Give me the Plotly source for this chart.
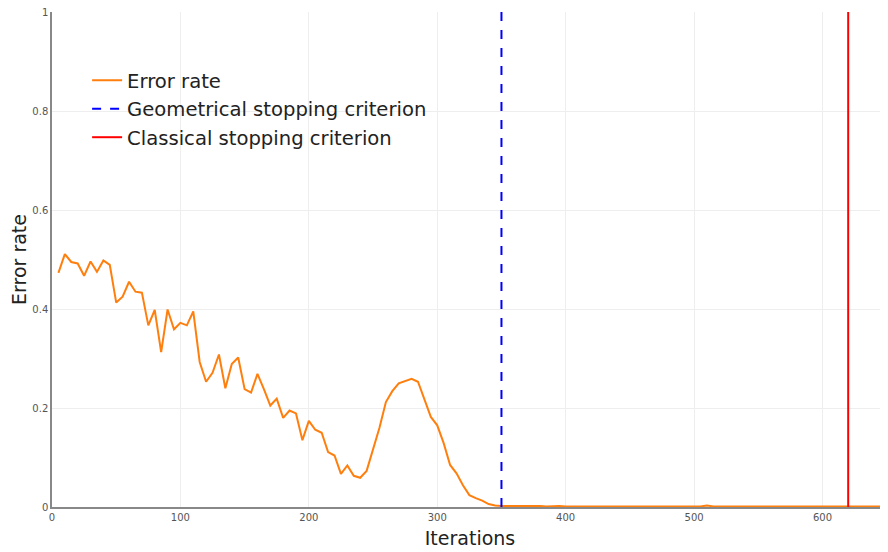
import plotly.graph_objects as go

iterations = list(range(5, 651, 5))
error_rate = [
    0.473, 0.511, 0.495, 0.492, 0.467, 0.496, 0.475, 0.498, 0.489, 0.413,
    0.425, 0.455, 0.435, 0.433, 0.367, 0.398, 0.313, 0.399, 0.359, 0.372,
    0.367, 0.395, 0.293, 0.253, 0.271, 0.308, 0.240, 0.289, 0.302, 0.238,
    0.231, 0.269, 0.238, 0.205, 0.219, 0.180, 0.195, 0.189, 0.135, 0.174,
    0.156, 0.150, 0.111, 0.104, 0.067, 0.084, 0.063, 0.059, 0.073, 0.115,
    0.160, 0.212, 0.234, 0.250, 0.255, 0.259, 0.253, 0.219, 0.182, 0.165,
    0.129, 0.085, 0.068, 0.044, 0.024, 0.018, 0.013, 0.006, 0.003, 0.002,
    0.002, 0.002, 0.003, 0.002, 0.002, 0.002, 0.001, 0.002, 0.002, 0.001,
    0.001, 0.002, 0.001, 0.001, 0.001, 0.002, 0.001, 0.001, 0.001, 0.001,
    0.001, 0.001, 0.001, 0.001, 0.001, 0.001, 0.001, 0.002, 0.001, 0.001,
    0.001, 0.003, 0.001, 0.001, 0.001, 0.001, 0.001, 0.001, 0.001, 0.001,
    0.001, 0.001, 0.001, 0.001, 0.001, 0.001, 0.001, 0.001, 0.001, 0.001,
    0.001, 0.001, 0.001, 0.001, 0.001, 0.001, 0.001, 0.001, 0.001, 0.001,
]
geometrical_stop = 350
classical_stop = 620
y_ticks = [0, 0.2, 0.4, 0.6, 0.8, 1]
y_tick_labels = ["0", "0.2", "0.4", "0.6", "0.8", "1"]
x_ticks = [0, 100, 200, 300, 400, 500, 600]

fig = go.Figure()
fig.add_trace(go.Scatter(x=iterations, y=error_rate, mode="lines", name="Error rate",
                         line=dict(color="#ff7f0e", width=2)))
fig.add_trace(go.Scatter(x=[geometrical_stop, geometrical_stop], y=[0, 1], mode="lines",
                         name="Geometrical stopping criterion",
                         line=dict(color="#0000ff", width=2, dash="dash")))
fig.add_trace(go.Scatter(x=[classical_stop, classical_stop], y=[0, 1], mode="lines",
                         name="Classical stopping criterion",
                         line=dict(color="#ff0000", width=2)))

fig.update_layout(
    width=880, height=544,
    margin=dict(l=44, r=0, t=4, b=45),
    plot_bgcolor="white", paper_bgcolor="white",
    font=dict(family="DejaVu Sans", color="#222"),
    showlegend=True,
    legend=dict(x=0.042, y=0.901, xanchor="left", yanchor="top", itemwidth=30,
                bgcolor="rgba(0,0,0,0)", font=dict(size=19.6, family="DejaVu Sans", color="#222")),
    xaxis=dict(range=[0, 651], tickvals=x_ticks, showgrid=True, gridcolor="#eeeeee",
               showline=True, linecolor="#888", linewidth=1.5, zeroline=False, automargin=False,
               tickfont=dict(size=10, color="#555"), ticklabeloverflow="allow",
               title=dict(text="Iterations", font=dict(size=19, color="#222"), standoff=10)),
    yaxis=dict(range=[0, 1], tickvals=y_ticks, ticktext=y_tick_labels, showgrid=True,
               gridcolor="#eeeeee", showline=True, linecolor="#888", linewidth=1.5,
               zeroline=False, automargin=False, tickfont=dict(size=10, color="#555"),
               ticklabeloverflow="allow",
               title=dict(text="Error rate", font=dict(size=19, color="#222"), standoff=16)),
)

fig.write_html("out.html")
